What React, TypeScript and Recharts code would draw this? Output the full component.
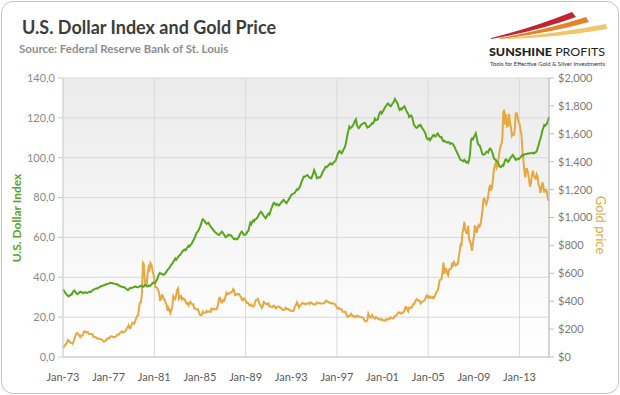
import { CartesianGrid, Line, LineChart, XAxis, YAxis } from "recharts";

// Trade-weighted U.S. dollar index, monthly, Jan 1973 - Aug 2015 (one row per year)
const usdIndex = [
  34.0, 33.2, 32.4, 31.8, 31.2, 30.8, 30.4, 30.8, 31.4, 31.2, 32.2, 33.0,
  33.4, 32.6, 32.0, 31.6, 31.8, 32.2, 32.8, 32.6, 32.4, 32.0, 32.2, 32.6,
  32.4, 32.1, 32.3, 32.6, 32.8, 32.6, 33.0, 33.4, 33.8, 34.0, 34.2, 34.5,
  34.4, 34.6, 35.0, 35.2, 35.6, 35.6, 35.8, 36.0, 36.2, 36.4, 36.6, 36.7,
  36.8, 37.0, 37.2, 37.1, 37.0, 36.9, 36.8, 36.7, 36.6, 36.4, 36.2, 35.8,
  35.6, 35.4, 35.2, 35.0, 35.2, 34.8, 34.4, 34.0, 33.6, 33.8, 34.4, 34.6,
  34.6, 34.8, 35.0, 35.2, 35.4, 35.2, 35.0, 35.0, 35.2, 35.6, 35.8, 35.4,
  35.2, 35.4, 36.2, 36.0, 35.6, 35.4, 35.8, 35.6, 35.9, 36.4, 37.0, 37.4,
  37.0, 37.4, 38.2, 39.0, 40.4, 41.6, 42.2, 41.8, 41.6, 41.4, 41.2, 41.6,
  42.2, 43.0, 43.8, 44.2, 44.8, 45.8, 46.4, 47.0, 47.8, 48.6, 49.5, 48.8,
  49.4, 50.2, 50.8, 51.2, 51.8, 52.6, 53.2, 53.7, 54.0, 53.6, 54.4, 55.2,
  55.8, 55.4, 56.2, 56.6, 57.6, 58.4, 59.4, 60.4, 62.0, 62.6, 63.0, 64.2,
  65.2, 66.4, 68.2, 69.1, 68.6, 68.2, 67.4, 66.8, 67.2, 67.4, 66.4, 65.6,
  65.0, 64.4, 63.7, 63.2, 62.6, 62.2, 61.8, 61.4, 61.2, 61.8, 62.4, 62.9,
  62.4, 61.6, 61.0, 60.1, 60.4, 60.8, 61.4, 61.0, 61.2, 61.0, 60.2, 59.6,
  59.1, 59.4, 59.0, 59.2, 59.6, 60.4, 61.6, 62.4, 62.9, 62.2, 61.4, 61.2,
  61.4, 62.0, 63.0, 63.4, 65.6, 67.4, 66.6, 67.8, 68.6, 68.2, 69.1, 69.2,
  69.8, 70.4, 71.6, 72.2, 72.9, 72.4, 71.6, 70.8, 70.4, 69.6, 70.2, 71.4,
  72.0, 71.4, 72.9, 74.4, 75.6, 77.0, 77.4, 76.6, 76.2, 76.8, 76.4, 76.0,
  76.6, 77.2, 77.8, 78.4, 78.8, 78.2, 77.6, 77.2, 78.0, 78.8, 79.6, 80.4,
  81.2, 81.8, 82.0, 82.1, 82.6, 83.4, 84.2, 84.0, 84.6, 85.4, 86.6, 88.0,
  89.2, 90.5, 90.4, 90.8, 91.0, 91.3, 90.6, 90.2, 89.8, 89.7, 90.8, 92.0,
  93.8, 92.6, 91.4, 89.7, 90.0, 90.2, 90.0, 90.5, 91.6, 92.8, 93.6, 94.4,
  95.5, 95.2, 95.6, 96.2, 96.6, 97.2, 96.8, 96.6, 97.4, 97.8, 98.2, 98.9,
  100.4, 102.0, 103.0, 103.4, 102.6, 102.2, 103.0, 104.2, 104.8, 106.4, 108.6, 111.4,
  113.6, 115.6, 114.8, 115.2, 115.6, 116.4, 117.2, 118.6, 119.3, 116.6, 115.4, 114.8,
  115.4, 116.2, 116.8, 117.0, 117.3, 117.6, 117.2, 116.0, 115.2, 115.6, 115.6, 116.2,
  116.6, 117.4, 117.2, 118.1, 119.6, 118.8, 119.0, 119.3, 121.2, 122.6, 123.1, 122.2,
  123.0, 123.8, 124.8, 125.6, 126.2, 127.0, 127.2, 126.4, 126.0, 126.0, 126.8, 127.6,
  128.2, 129.4, 128.6, 127.8, 127.0, 125.0, 124.0, 124.6, 124.2, 125.0, 125.2, 125.8,
  124.8, 123.6, 122.6, 122.0, 120.4, 120.8, 121.2, 120.4, 118.6, 116.4, 116.0, 115.2,
  115.0, 115.4, 116.2, 115.9, 116.4, 115.4, 114.6, 113.9, 113.2, 112.2, 110.4, 109.4,
  109.2, 109.6, 108.8, 109.7, 110.4, 111.2, 111.4, 110.6, 110.8, 111.6, 112.2, 111.4,
  110.6, 110.2, 110.4, 108.9, 108.2, 108.6, 108.0, 107.8, 107.6, 107.9, 107.6, 107.0,
  107.4, 107.1, 106.9, 106.0, 105.2, 103.9, 103.0, 102.0, 101.0, 99.8, 98.9, 98.8,
  98.6, 98.2, 98.9, 98.4, 97.6, 97.9, 97.4, 99.0, 102.0, 108.9, 109.7, 109.2,
  110.4, 111.2, 112.2, 110.0, 107.4, 106.4, 106.2, 105.0, 103.4, 101.8, 101.4, 101.6,
  102.2, 102.8, 103.0, 102.6, 104.0, 104.6, 104.2, 103.0, 101.8, 99.7, 99.2, 99.0,
  98.2, 97.6, 97.0, 95.6, 95.2, 95.6, 96.3, 96.0, 97.4, 98.9, 99.2, 98.6,
  98.0, 98.4, 99.6, 100.2, 100.8, 101.4, 100.6, 99.8, 98.9, 99.2, 99.4, 99.2,
  99.7, 100.2, 100.8, 101.4, 101.2, 101.6, 101.8, 101.9, 102.0, 102.2, 102.0, 102.3,
  102.4, 102.2, 102.5, 102.1, 102.4, 102.8, 103.2, 104.7, 106.2, 108.0, 109.6, 111.4,
  113.6, 114.8, 116.4, 116.0, 116.6, 117.3, 118.8, 120.6,
];

// Gold price, USD per ounce, monthly average, same months
const goldPrice = [
  65.1, 74.2, 84.1, 90.5, 102.0, 122.5, 120.2, 107.0, 103.0, 100.1, 94.8, 106.7,
  129.2, 150.2, 168.4, 172.2, 163.4, 154.1, 143.0, 154.6, 151.8, 158.8, 181.7, 183.9,
  175.8, 179.6, 178.0, 167.0, 167.0, 164.2, 165.2, 163.1, 144.1, 142.8, 142.2, 139.3,
  131.6, 131.2, 132.5, 128.2, 125.7, 125.6, 117.5, 109.5, 114.3, 116.1, 130.1, 133.9,
  132.3, 136.3, 148.2, 149.2, 146.7, 141.0, 143.3, 144.9, 149.5, 158.8, 162.1, 160.5,
  173.2, 178.2, 183.6, 175.5, 176.7, 183.5, 188.7, 206.2, 212.4, 227.5, 206.1, 207.8,
  227.3, 245.7, 242.1, 239.2, 257.8, 279.1, 294.7, 300.8, 355.1, 392.0, 392.7, 455.1,
  675.3, 665.3, 553.6, 517.4, 513.8, 600.7, 644.3, 626.5, 673.6, 661.2, 623.5, 594.9,
  557.6, 500.6, 499.8, 495.8, 479.7, 460.8, 409.3, 411.0, 443.2, 437.8, 413.4, 410.1,
  384.4, 374.2, 330.4, 350.5, 333.6, 314.8, 339.1, 364.3, 435.6, 422.8, 415.3, 444.4,
  481.2, 491.9, 419.6, 432.8, 437.6, 411.9, 422.9, 416.0, 411.8, 393.6, 381.6, 388.1,
  370.9, 385.6, 394.9, 381.2, 377.3, 377.7, 348.0, 347.7, 341.1, 340.2, 341.2, 320.2,
  302.7, 299.1, 304.0, 324.6, 316.6, 316.6, 317.3, 330.2, 323.4, 325.3, 325.3, 322.2,
  345.4, 338.9, 345.7, 340.4, 342.5, 342.6, 348.7, 376.5, 418.6, 423.7, 398.4, 391.0,
  408.3, 401.0, 408.9, 438.4, 460.2, 449.6, 450.6, 461.2, 459.7, 465.2, 467.4, 486.3,
  477.6, 443.3, 444.2, 451.7, 451.0, 451.7, 437.9, 431.4, 412.9, 406.7, 419.8, 418.8,
  404.0, 387.8, 390.2, 384.3, 371.0, 367.6, 375.0, 365.4, 362.0, 366.7, 394.0, 409.5,
  410.1, 416.7, 393.1, 374.3, 369.1, 352.3, 362.5, 394.7, 389.0, 380.7, 381.5, 376.3,
  383.6, 363.8, 363.3, 358.4, 357.4, 366.7, 367.7, 356.4, 348.7, 358.5, 359.8, 361.1,
  354.5, 354.0, 344.3, 338.6, 337.2, 340.8, 352.7, 342.9, 345.4, 344.4, 335.0, 334.8,
  329.0, 329.3, 330.1, 342.2, 367.2, 371.9, 392.0, 379.8, 355.3, 364.2, 373.6, 383.3,
  386.9, 381.9, 384.1, 378.0, 381.6, 385.6, 385.5, 380.4, 391.7, 389.8, 384.4, 379.3,
  379.0, 376.4, 382.1, 391.0, 385.3, 387.6, 386.2, 383.8, 383.1, 383.1, 385.8, 387.4,
  399.5, 404.8, 396.2, 392.8, 392.0, 385.3, 383.5, 387.5, 383.1, 381.1, 377.9, 369.2,
  354.1, 346.6, 351.8, 344.5, 343.8, 340.8, 324.1, 324.0, 322.8, 324.9, 306.0, 288.7,
  289.1, 297.5, 295.9, 308.4, 299.1, 292.3, 292.9, 284.1, 289.0, 296.0, 294.1, 291.6,
  287.1, 287.3, 285.8, 282.4, 276.4, 261.3, 256.1, 256.7, 265.0, 310.7, 293.2, 283.1,
  284.6, 300.2, 286.4, 280.0, 275.3, 285.7, 281.6, 274.5, 273.7, 270.0, 266.0, 271.4,
  265.5, 261.9, 263.0, 260.5, 272.4, 270.2, 267.5, 272.4, 283.4, 283.1, 276.2, 275.9,
  281.7, 295.5, 294.0, 302.7, 314.5, 321.2, 313.3, 310.3, 319.2, 316.6, 319.2, 333.4,
  356.9, 359.0, 340.6, 328.2, 355.7, 356.4, 351.0, 359.8, 378.9, 378.9, 389.9, 407.6,
  414.0, 405.3, 406.7, 403.0, 383.8, 392.4, 398.1, 400.5, 405.3, 420.5, 439.4, 441.8,
  424.0, 423.4, 434.2, 428.9, 421.9, 430.7, 424.5, 437.9, 456.0, 469.9, 476.7, 509.4,
  549.9, 555.0, 557.1, 610.6, 676.5, 596.2, 633.8, 632.6, 598.2, 585.8, 627.8, 629.8,
  631.2, 664.8, 654.9, 679.4, 666.9, 655.5, 665.3, 665.4, 712.7, 754.6, 806.3, 803.2,
  889.6, 922.3, 968.4, 909.7, 888.7, 889.5, 939.8, 839.0, 829.9, 806.6, 760.9, 816.1,
  858.7, 943.2, 924.3, 890.2, 928.6, 945.7, 934.2, 949.4, 996.6, 1043.2, 1127.0, 1134.7,
  1117.0, 1095.4, 1113.3, 1148.7, 1205.4, 1232.9, 1193.0, 1215.8, 1270.9, 1342.0, 1369.9, 1390.6,
  1356.4, 1372.7, 1424.0, 1473.8, 1510.4, 1528.7, 1572.8, 1755.8, 1771.9, 1665.2, 1738.9, 1652.3,
  1656.1, 1742.6, 1673.8, 1650.1, 1585.5, 1596.7, 1594.3, 1630.3, 1744.8, 1747.0, 1721.1, 1684.8,
  1671.9, 1627.6, 1593.1, 1487.9, 1414.0, 1342.4, 1286.7, 1347.1, 1348.6, 1316.6, 1275.8, 1221.5,
  1244.3, 1299.6, 1336.1, 1299.0, 1287.5, 1279.1, 1310.6, 1295.1, 1236.6, 1222.5, 1176.3, 1202.3,
  1251.8, 1227.1, 1178.6, 1198.9, 1198.6, 1181.5, 1128.3, 1117.9,
];

const startYear = 1973;
const xTicks = [0, 48, 96, 144, 192, 240, 288, 336, 384, 432, 480];
const usdTicks = [0, 20, 40, 60, 80, 100, 120, 140];
const goldTicks = [0, 200, 400, 600, 800, 1000, 1200, 1400, 1600, 1800, 2000];

const data = usdIndex.map((usd, m) => ({ m, usd, gold: goldPrice[m] }));

const GREEN = "#58a61d";
const GOLD = "#e6a841";
const FONT = "Lato, 'Open Sans', sans-serif";

const monthLabel = (m: number) => {
  const yy = (startYear + Math.floor(m / 12)) % 100;
  return `Jan-${String(yy).padStart(2, "0")}`;
};

export default function App() {
  return (
    <div style={{ position: "absolute", left: 0, top: 0, width: 620, height: 395, background: "#fff", fontFamily: FONT }}>
      <div
        style={{
          position: "absolute",
          left: 1,
          top: 1,
          width: 618,
          height: 393,
          boxSizing: "border-box",
          border: "1px solid #c4c4c4",
          borderRadius: 12,
        }}
      />
      <div style={{ position: "absolute", left: 0, top: 0 }}>
        <LineChart width={620} height={395} data={data} margin={{ top: 78, right: 0, bottom: 18, left: 0 }}>
          <defs>
            <linearGradient id="plotBg" x1="0" y1="0" x2="0" y2="1">
              <stop offset="0%" stopColor="#ebebeb" />
              <stop offset="100%" stopColor="#ffffff" />
            </linearGradient>
          </defs>
          <CartesianGrid yAxisId="usd" fill="url(#plotBg)" stroke="#d9d9d9" strokeWidth={1} />
          <XAxis
            dataKey="m"
            type="number"
            domain={[0, 511]}
            ticks={xTicks}
            tickFormatter={monthLabel}
            height={20}
            tickLine={false}
            tickMargin={10}
            axisLine={{ stroke: "#c8c8c8" }}
            tick={{ fill: "#5a5a5a", fontSize: 11, fontFamily: FONT }}
          />
          <YAxis
            yAxisId="usd"
            orientation="left"
            domain={[0, 140]}
            ticks={usdTicks}
            width={63}
            tickSize={5}
            tickMargin={3}
            axisLine={{ stroke: "#d4d4d4" }}
            tickLine={{ stroke: "#c8c8c8" }}
            tickFormatter={(v: number) => v.toFixed(1).replace(".", ",")}
            tick={{ fill: "#8a8a8a", fontSize: 11, fontFamily: FONT }}
          />
          <YAxis
            yAxisId="gold"
            orientation="right"
            domain={[0, 2000]}
            ticks={goldTicks}
            width={71}
            tickSize={5}
            tickMargin={4}
            axisLine={{ stroke: "#bdbdbd" }}
            tickLine={{ stroke: "#bdbdbd" }}
            tickFormatter={(v: number) => `$${v.toLocaleString("en-US")}`}
            tick={{ fill: "#7a7a7a", fontSize: 11, fontFamily: FONT }}
          />
          <Line yAxisId="gold" type="linear" dataKey="gold" stroke={GOLD} strokeWidth={2} dot={false} isAnimationActive={false} />
          <Line yAxisId="usd" type="linear" dataKey="usd" stroke={GREEN} strokeWidth={2} dot={false} isAnimationActive={false} />
        </LineChart>
      </div>
      <svg width={620} height={395} style={{ position: "absolute", left: 0, top: 0, pointerEvents: "none" }}>
        <text x={22} y={34} fontSize={18} fontWeight={700} fill="#3c3c3c" fontFamily={FONT}>
          U.S. Dollar Index and Gold Price
        </text>
        <text x={19} y={53} fontSize={11.5} fontWeight={700} fill="#8e8e8e" fontFamily={FONT}>
          Source: Federal Reserve Bank of St. Louis
        </text>
        <path d="M491,38 Q532,28 572,12 L576,17 Q538,31 491,39 Z" fill="#c62331" />
        <path d="M500,38 Q545,30 586,17 L589,22 Q550,33 500,39 Z" fill="#e2852a" />
        <path d="M508,38 Q560,33 606,24 L607,29 Q562,37 508,39 Z" fill="#f0c66a" />
        <text x={489} y={56} fontSize={12} fill="#222" fontFamily={FONT} textLength={116} lengthAdjust="spacingAndGlyphs">
          <tspan fontWeight={900}>SUNSHINE</tspan>
          <tspan fontWeight={400}> PROFITS</tspan>
        </text>
        <text x={490} y={66} fontSize={5.5} fill="#333" fontFamily={FONT} textLength={115} lengthAdjust="spacingAndGlyphs">
          Tools for Effective Gold &amp; Silver Investments
        </text>
        <text
          x={16}
          y={218}
          transform="rotate(-90 16 218)"
          textAnchor="middle"
          dominantBaseline="central"
          fontSize={12}
          fontWeight={700}
          fill={GREEN}
          fontFamily={FONT}
        >
          U.S. Dollar Index
        </text>
        <text
          x={601}
          y={225}
          transform="rotate(90 601 225)"
          textAnchor="middle"
          dominantBaseline="central"
          fontSize={13}
          fill={GOLD}
          fontFamily={FONT}
        >
          Gold price
        </text>
      </svg>
    </div>
  );
}
